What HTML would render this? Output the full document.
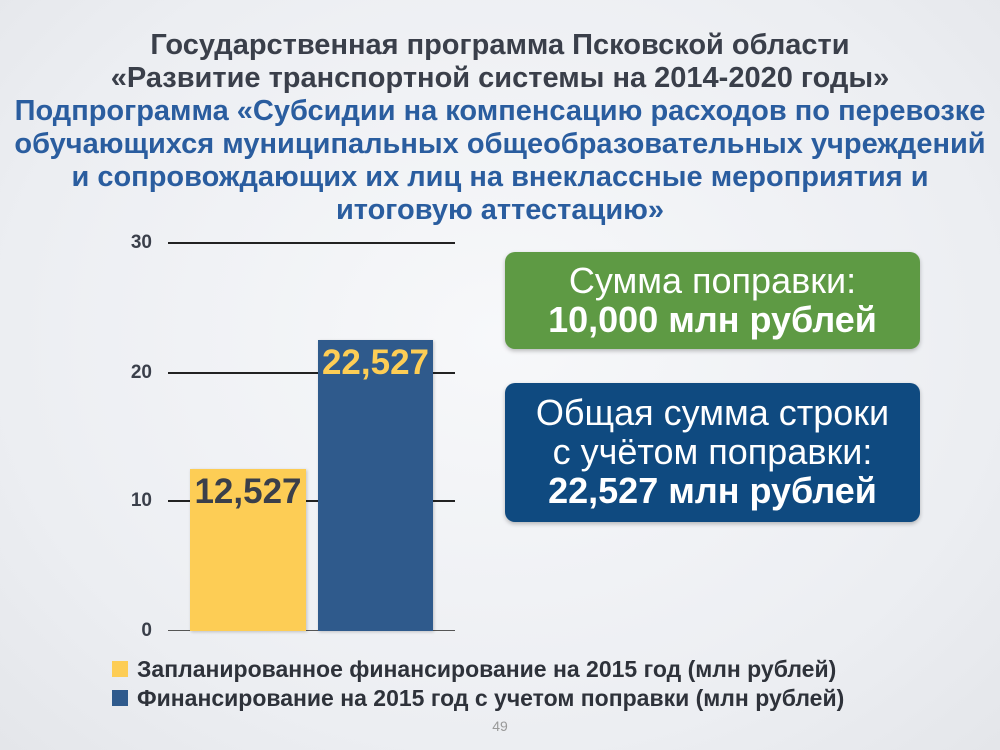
<!DOCTYPE html>
<html><head><meta charset="utf-8"><style>
body{margin:0;width:1000px;height:750px;overflow:hidden;background:radial-gradient(ellipse at 50% 45%,#f7f8fa 0%,#eceef2 70%,#e4e6ea 100%);font-family:"Liberation Sans","Noto Sans CJK SC",sans-serif;position:relative}
.t{position:absolute;left:0;width:1000px;text-align:center;font-weight:bold;font-size:29px;line-height:33px;white-space:nowrap}
.a{position:absolute}
.g{position:absolute;left:168px;width:287px;height:2px;background:#222}
.yl{position:absolute;width:40px;text-align:right;left:112px;font-weight:bold;font-size:19px;color:#3a3f4a}
.box{position:absolute;left:505px;width:415px;border-radius:10px;color:#fff;text-align:center;font-size:36px;line-height:39px;box-shadow:0 2px 4px rgba(0,0,0,.25);white-space:nowrap}
.lg{position:absolute;left:137px;font-weight:bold;font-size:23px;color:#2e323a;white-space:nowrap}
.sq{position:absolute;left:112px;width:16px;height:16px}
</style></head><body>
<div class="t" style="top:29px;color:#3a3f4a">Государственная программа Псковской области</div>
<div class="t" style="top:62px;color:#3a3f4a">«Развитие транспортной системы на 2014-2020 годы»</div>
<div class="t" style="top:95px;color:#2a5d9f">Подпрограмма «Субсидии на компенсацию расходов по перевозке</div>
<div class="t" style="top:128px;color:#2a5d9f">обучающихся муниципальных общеобразовательных учреждений</div>
<div class="t" style="top:161px;color:#2a5d9f">и сопровождающих их лиц на внеклассные мероприятия и</div>
<div class="t" style="top:194px;color:#2a5d9f">итоговую аттестацию»</div>

<div class="g" style="top:242px"></div>
<div class="g" style="top:372px"></div>
<div class="g" style="top:500px"></div>
<div class="g" style="top:630px;background:#555;height:1px"></div>
<div class="yl" style="top:232px">30</div>
<div class="yl" style="top:362px">20</div>
<div class="yl" style="top:490px">10</div>
<div class="yl" style="top:620px">0</div>

<div class="a" style="left:190px;top:469px;width:116px;height:162px;background:#fdcd55;box-shadow:1px 1px 3px rgba(0,0,0,.2)"></div>
<div class="a" style="left:318px;top:340px;width:115px;height:291px;background:#2f5a8c;box-shadow:1px 1px 3px rgba(0,0,0,.2)"></div>
<div class="a" style="left:190px;top:472px;width:116px;text-align:center;font-weight:bold;font-size:35px;color:#3a3f4a">12,527</div>
<div class="a" style="left:318px;top:343px;width:115px;text-align:center;font-weight:bold;font-size:35px;color:#fdcd55">22,527</div>

<div class="box" style="top:252px;height:97px;background:#5e9a44;padding-top:9px;box-sizing:border-box">Сумма поправки:<br><b>10,000 млн рублей</b></div>
<div class="box" style="top:383px;height:139px;background:#0f4a80;padding-top:10px;box-sizing:border-box">Общая сумма строки<br>с учётом поправки:<br><b>22,527 млн рублей</b></div>

<div class="sq" style="top:661px;background:#fdcd55"></div>
<div class="sq" style="top:690px;background:#2f5a8c"></div>
<div class="lg" style="top:656px">Запланированное финансирование на 2015 год (млн рублей)</div>
<div class="lg" style="top:685px">Финансирование на 2015 год с учетом поправки (млн рублей)</div>
<div class="a" style="left:0;width:1000px;top:718px;text-align:center;font-size:14px;color:#999">49</div>
</body></html>
